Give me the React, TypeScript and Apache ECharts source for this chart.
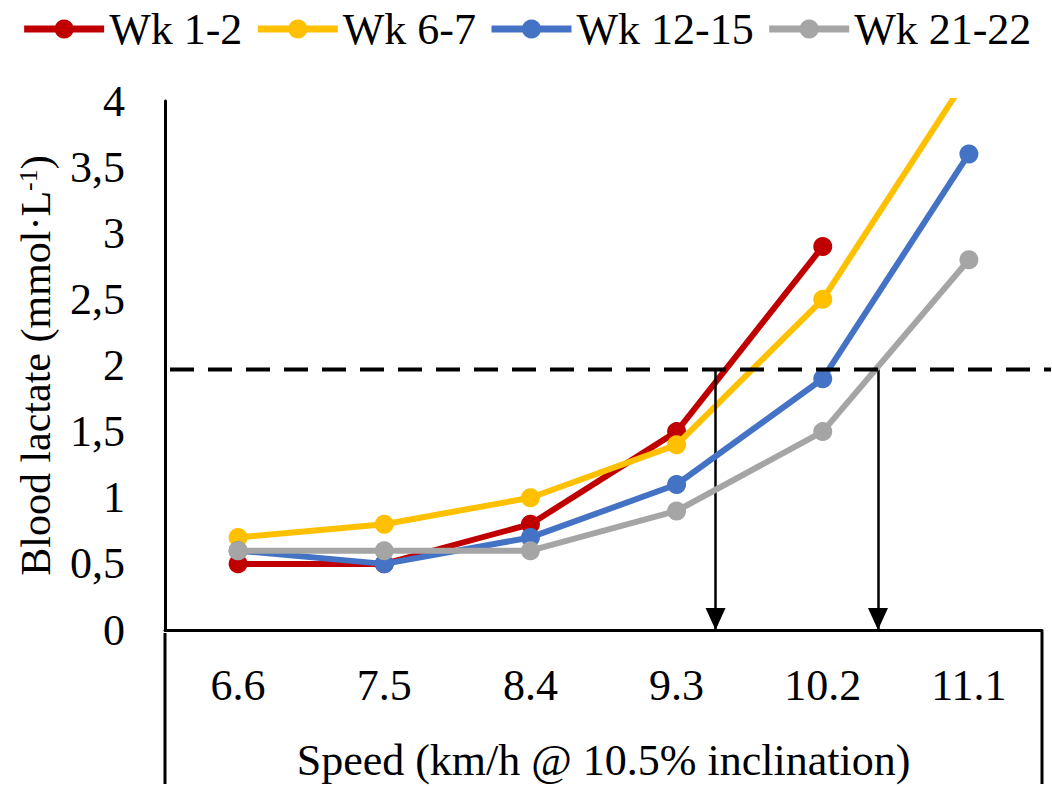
import React, { useEffect, useRef } from "react";
import * as echarts from "echarts";

// ---- data ----
const categories = ["6.6", "7.5", "8.4", "9.3", "10.2", "11.1"];
const seriesNames = ["Wk 1-2", "Wk 6-7", "Wk 12-15", "Wk 21-22"];
const wk1_2 = [0.5, 0.5, 0.8, 1.5, 2.9, null];
const wk6_7 = [0.7, 0.8, 1.0, 1.4, 2.5, 4.2];
const wk12_15 = [0.6, 0.5, 0.7, 1.1, 1.9, 3.6];
const wk21_22 = [0.6, 0.6, 0.6, 0.9, 1.5, 2.8];
const seriesColors = ["#C00000", "#FFC000", "#4472C4", "#A5A5A5"];
const thresholdLactate = 1.97;
const thresholdSpeeds = [9.54, 10.54];
const speedMin = 6.15;
const speedMax = 11.55;

const FONT = "'Liberation Serif', 'Times New Roman', serif";

const GRID = { left: 165, right: 10, top: 101, bottom: 154 };
const W = 1052;
const H = 787;

export default function App() {
  const ref = useRef<HTMLDivElement>(null);
  useEffect(() => {
    if (!ref.current) return;
    const chart = echarts.init(ref.current, null, { renderer: "svg" });
    const allData = [wk1_2, wk6_7, wk12_15, wk21_22];
    const dataSeries = allData.map((d, i) => ({
      name: seriesNames[i],
      type: "line",
      data: d,
      xAxisIndex: 0,
      yAxisIndex: 0,
      symbol: "circle",
      symbolSize: 19,
      showSymbol: true,
      connectNulls: false,
      clip: true,
      lineStyle: { color: seriesColors[i], width: 6 },
      itemStyle: { color: seriesColors[i] },
      z: 3 + i,
    }));
    const axisBottom = H - GRID.bottom;
    const xLeft = GRID.left;
    const xRight = W - GRID.right;
    chart.setOption({
      animation: false,
      backgroundColor: "#fff",
      textStyle: { fontFamily: FONT },
      legend: {
        data: seriesNames,
        top: 2,
        left: "center",
        itemWidth: 80,
        itemHeight: 24,
        itemGap: 12,
        lineStyle: { width: 7 },
        textStyle: { fontFamily: FONT, fontSize: 44, color: "#000" },
      },
      grid: { ...GRID, containLabel: false },
      xAxis: [
        {
          type: "category",
          data: categories,
          boundaryGap: true,
          axisLine: { show: true, lineStyle: { color: "#000", width: 3 } },
          axisTick: { show: false },
          splitLine: { show: false },
          axisLabel: {
            fontFamily: FONT,
            fontSize: 44,
            color: "#000",
            margin: 33,
          },
          name: "Speed (km/h @ 10.5% inclination)",
          nameLocation: "middle",
          nameGap: 108,
          nameTextStyle: { fontFamily: FONT, fontSize: 44, color: "#000" },
        },
        {
          type: "value",
          min: speedMin,
          max: speedMax,
          show: false,
        },
      ],
      yAxis: {
        type: "value",
        min: 0,
        max: 4,
        interval: 0.5,
        axisLine: { show: true, lineStyle: { color: "#000", width: 3 } },
        axisTick: { show: false },
        splitLine: { show: false },
        axisLabel: {
          fontFamily: FONT,
          fontSize: 44,
          color: "#000",
          margin: 40,
          formatter: (v: number) => String(v).replace(".", ","),
        },
        name: "Blood lactate (mmol·L{sup|-1})",
        nameLocation: "middle",
        nameGap: 108,
        nameTextStyle: {
          fontFamily: FONT,
          fontSize: 42,
          color: "#000",
          rich: {
            sup: {
              fontFamily: FONT,
              fontSize: 26,
              color: "#000",
              verticalAlign: "top",
              padding: [0, 0, 16, 0],
            },
          },
        },
      },
      series: [
        ...dataSeries,
        {
          name: "arrows",
          type: "line",
          xAxisIndex: 1,
          yAxisIndex: 0,
          data: [],
          clip: false,
          silent: true,
          z: 11,
          markLine: {
            silent: true,
            symbol: ["none", "triangle"],
            symbolSize: [20, 22],
            symbolOffset: [
              [0, 0],
              [0, 11],
            ],
            label: { show: false },
            lineStyle: { color: "#000", width: 2.5, type: "solid" },
            data: thresholdSpeeds.map((s) => [
              { coord: [s, thresholdLactate] },
              { coord: [s, 0] },
            ]),
          },
        },
      ],
    });
    // Dashed threshold line: y from the axis scale, spanning past the plot to the page edge
    const p = chart.convertToPixel({ xAxisIndex: 1, yAxisIndex: 0 }, [
      speedMin,
      thresholdLactate,
    ]) as number[];
    const yThr = p[1];
    chart.setOption({
      graphic: [
        {
          type: "line",
          shape: { x1: xLeft + 5, y1: yThr, x2: W - 1, y2: yThr },
          style: { stroke: "#000", lineWidth: 4, lineDash: [24, 14] },
          z: 20,
        },
        {
          type: "line",
          shape: { x1: xLeft, y1: axisBottom, x2: xLeft, y2: H - 3 },
          style: { stroke: "#000", lineWidth: 3 },
          z: 20,
        },
        {
          type: "line",
          shape: { x1: xRight, y1: axisBottom - 1.5, x2: xRight, y2: H - 3 },
          style: { stroke: "#000", lineWidth: 3 },
          z: 20,
        },
      ],
    });
    return () => chart.dispose();
  }, []);
  return (
    <div
      ref={ref}
      style={{ position: "absolute", left: 0, top: 0, width: W, height: H }}
    />
  );
}
